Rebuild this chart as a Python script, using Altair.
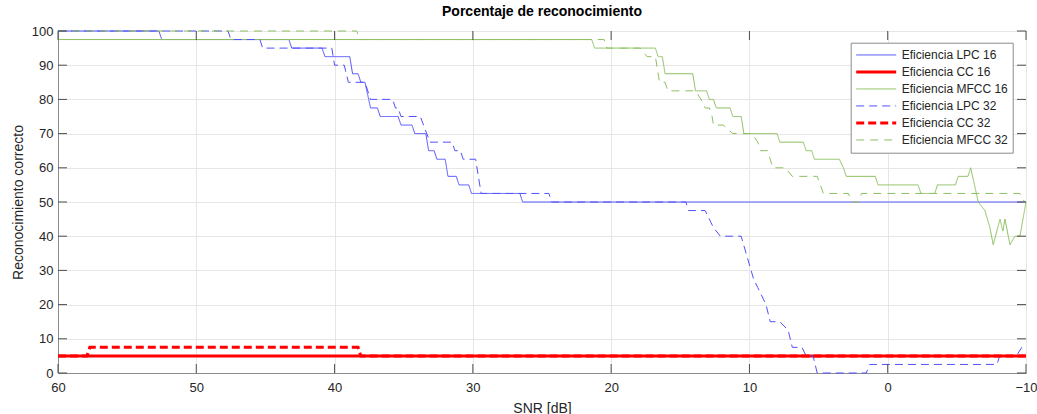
import altair as alt
import pandas as pd

# ---------------- data ----------------
series_names = ["Eficiencia LPC 16", "Eficiencia CC 16", "Eficiencia MFCC 16",
                "Eficiencia LPC 32", "Eficiencia CC 32", "Eficiencia MFCC 32"]
series_colors = ["#5050ff", "#ff0000", "#8dc060", "#5050ff", "#ff0000", "#8dc060"]
series_dash = [[1, 0], [1, 0], [1, 0], [8, 5], [8, 4], [8, 6]]
series_width = [1, 3, 1, 1, 3, 1]

x_ticks = [60, 50, 40, 30, 20, 10, 0, -10]
y_ticks = [0, 10, 20, 30, 40, 50, 60, 70, 80, 90, 100]

lpc16_snr = [60, 52.7, 52.5, 43.3, 43.1, 40.9, 40.7, 38.9, 38.7, 38.3, 38.1, 37.8, 37.4,
             36.9, 36.7, 35.4, 35.2, 34.4, 34.2, 33.4, 33.2, 32.8, 32.6, 32.0, 31.8,
             31.2, 31.0, 30.3, 30.1, 26.6, 26.4, -10]
lpc16_val = [100, 100, 97.5, 97.5, 95, 95, 92.5, 92.5, 87.5, 87.5, 85, 85, 77.5,
             77.5, 75, 75, 72.5, 72.5, 70, 70, 65, 65, 62.5, 62.5, 57.5,
             57.5, 55, 55, 52.5, 52.5, 50, 50]

cc16_snr = [60, -10]
cc16_val = [5, 5]

mfcc16_snr = [60, 21.4, 21.2, 16.8, 16.6, 16.3, 16.1, 14.1, 13.9, 13.1, 12.9, 12.6, 12.4,
              11.4, 11.2, 10.6, 10.4, 8.0, 7.8, 6.1, 5.9, 5.5, 5.3, 3.5, 3.2, 3.0,
              0.9, 0.7, -2.2, -2.4, -3.4, -3.6, -4.9, -5.1, -5.8, -6.0, -6.55, -7.03,
              -7.39, -7.63, -8.12, -8.33, -8.48, -8.84, -9.2, -9.56, -10]
mfcc16_val = [97.5, 97.5, 95, 95, 92.5, 92.5, 87.5, 87.5, 82.5, 82.5, 80, 80, 77.5,
              77.5, 75, 75, 70, 70, 67.5, 67.5, 65, 65, 62.5, 62.5, 60, 57.5,
              57.5, 55, 55, 52.5, 52.5, 55, 55, 57.5, 57.5, 60, 50, 47.5,
              42.5, 37.5, 45, 41.5, 45, 37.5, 40, 40, 50]

lpc32_snr = [60, 47.7, 47.5, 45.4, 45.2, 40.2, 40.0, 39.3, 39.0, 37.8, 37.4, 35.8, 35.6,
             35.4, 35.2, 33.8, 33.1, 31.5, 31.3, 30.9, 30.7, 29.8, 29.4, 24.5, 24.3,
             14.6, 14.4, 13.2, 12.6, 12.1, 10.6, 9.7, 9.4, 8.8, 8.5, 7.8, 7.2, 6.9,
             6.2, 5.9, 5.4, 5.1, 1.55, 1.3, -7.9, -8.1, -9.3, -9.7, -10]
lpc32_val = [100, 100, 97.5, 97.5, 95, 95, 90, 90, 85, 85, 80, 80, 77.5,
             77.5, 75, 75, 67.5, 67.5, 65, 65, 62.5, 62.5, 52.5, 52.5, 50,
             50, 47.5, 47.5, 42.5, 40, 40, 27.5, 25, 20, 15, 15, 12.5, 7.5,
             7.5, 5, 5, 0, 0, 2.5, 2.5, 5, 5, 7.5, 7.5]

cc32_snr = [60, 57.9, 57.7, 38.3, 38.1, -10]
cc32_val = [5, 5, 7.5, 7.5, 5, 5]

mfcc32_snr = [60, 38.4, 38.2, 20.5, 20.3, 17.9, 17.4, 16.8, 16.5, 16.1, 15.9, 13.9, 13.5,
              13.2, 12.9, 12.7, 12.6, 11.9, 11.2, 9.8, 9.4, 9.2, 8.7, 8.3, 7.4, 6.9,
              5.1, 4.65, 2.85, 2.6, 2.1, 1.9, -9.56, -9.9, -10]
mfcc32_val = [100, 100, 97.5, 97.5, 95, 95, 92.5, 92.5, 85, 85, 82.5, 82.5, 80,
              77.5, 77.5, 75, 72.5, 72.5, 70, 70, 67.5, 65, 65, 60, 60, 57.5,
              57.5, 52.5, 52.5, 50, 50, 52.5, 52.5, 50, 50]

all_snr = [lpc16_snr, cc16_snr, mfcc16_snr, lpc32_snr, cc32_snr, mfcc32_snr]
all_val = [lpc16_val, cc16_val, mfcc16_val, lpc32_val, cc32_val, mfcc32_val]

rows = []
for name, xs, ys in zip(series_names, all_snr, all_val):
    for i, (xv, yv) in enumerate(zip(xs, ys)):
        rows.append({"serie": name, "snr": xv, "valor": yv, "idx": i})
df = pd.DataFrame(rows)

xt = pd.DataFrame({"snr": x_ticks})
yt = pd.DataFrame({"valor": y_ticks})

W, H = 968, 342
FONT = "Liberation Sans"
TXT = "#262626"
TICK = "#4d4d4d"

x_scale = alt.Scale(domain=[-10, 60], reverse=True, nice=False, zero=False)
y_scale = alt.Scale(domain=[0, 100], nice=False)

x_axis = alt.Axis(values=x_ticks, format="d", ticks=False, labelPadding=8,
                  titlePadding=7, labelFlush=False, labelOverlap=False)
y_axis = alt.Axis(values=y_ticks, format="d", ticks=False, labelPadding=5,
                  titlePadding=6, labelFlush=False, labelOverlap=False)


def xe():
    return alt.X("snr:Q", scale=x_scale, title="SNR [dB]", axis=x_axis)


def ye():
    return alt.Y("valor:Q", scale=y_scale, title="Reconocimiento correcto", axis=y_axis)


lines = alt.Chart(df).mark_line(interpolate="linear").encode(
    x=xe(),
    y=ye(),
    color=alt.Color("serie:N", sort=series_names,
                    scale=alt.Scale(domain=series_names, range=series_colors),
                    legend=alt.Legend(orient="none", legendX=792.7, legendY=11.7,
                                      title=None, symbolType="stroke", symbolSize=1600,
                                      clipHeight=16.5, padding=4, labelOffset=4,
                                      labelFont=FONT, labelFontSize=12, labelColor=TXT,
                                      fillColor="white", strokeColor="#8c8c8c",
                                      rowPadding=0)),
    strokeDash=alt.StrokeDash("serie:N", sort=series_names,
                              scale=alt.Scale(domain=series_names, range=series_dash)),
    strokeWidth=alt.StrokeWidth("serie:N", sort=series_names,
                                scale=alt.Scale(type="ordinal", domain=series_names,
                                                range=series_width)),
    order="idx:Q",
)

tick_len = 9
xb = alt.Chart(xt).mark_rule(color=TICK, strokeWidth=1).encode(
    x=xe(), y=alt.value(H), y2=alt.value(H - tick_len))
xtp = alt.Chart(xt).mark_rule(color=TICK, strokeWidth=1).encode(
    x=xe(), y=alt.value(0), y2=alt.value(tick_len))
yl = alt.Chart(yt).mark_rule(color=TICK, strokeWidth=1).encode(
    y=ye(), x=alt.value(0), x2=alt.value(tick_len))
yr = alt.Chart(yt).mark_rule(color=TICK, strokeWidth=1).encode(
    y=ye(), x=alt.value(W), x2=alt.value(W - tick_len))

chart = alt.layer(lines, xb, xtp, yl, yr).properties(
    width=W, height=H,
    background="white",
    title=alt.TitleParams("Porcentaje de reconocimiento", anchor="middle",
                          font=FONT, fontSize=14, fontWeight="bold", color="black",
                          offset=6),
    autosize=alt.AutoSizeParams(type="none"),
    padding={"left": 58, "top": 31, "right": 11, "bottom": 41},
).configure_view(
    stroke="#8c8c8c", strokeWidth=1
).configure_axis(
    domainColor="#8c8c8c", gridColor="#e6e6e6", gridWidth=1,
    labelFont=FONT, labelFontSize=13, labelColor=TXT,
    titleFont=FONT, titleFontSize=14, titleFontWeight="normal", titleColor=TXT,
)

chart.save("out.html", embed_options={"renderer": "svg", "actions": False})
